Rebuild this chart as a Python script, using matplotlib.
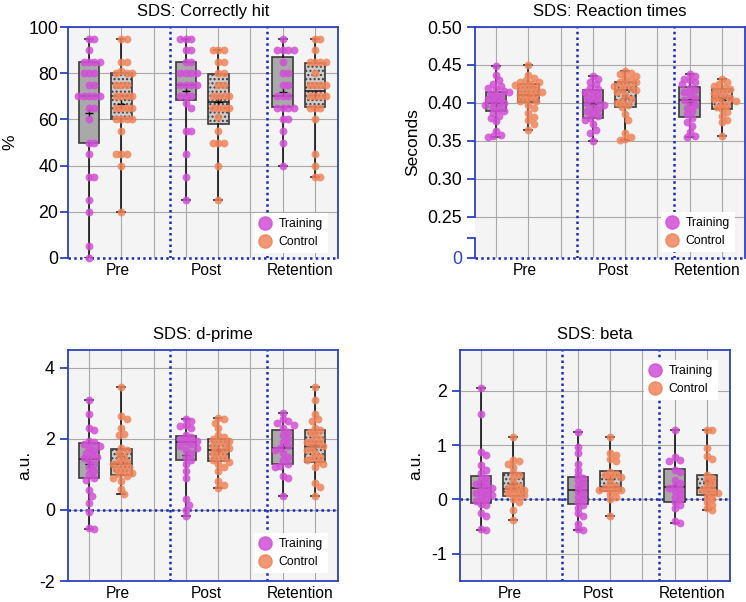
import numpy as np
import matplotlib
matplotlib.use("Agg")
import matplotlib.pyplot as plt
import matplotlib.transforms as mtransforms
from matplotlib.lines import Line2D

plt.rcParams['font.family'] = ['Liberation Sans', 'DejaVu Sans']
plt.rcParams['axes.unicode_minus'] = False
plt.rcParams['hatch.linewidth'] = 1.0

# ---------------- data ----------------
sessions = ["Pre", "Post", "Retention"]
session_x = [0.9, 3.63, 6.54]
positions = [0, 1, 3, 4, 6, 7]          # training / control per session

# SDS: correctly hit (%)
hit_pre_tr = [95, 95, 90, 85, 85, 85, 85, 80, 80, 80, 75, 75, 70, 70, 70, 70, 70,
              65, 65, 60, 50, 50, 45, 35, 35, 25, 20, 5, 0]
hit_pre_ct = [95, 95, 85, 85, 81, 80, 80, 80, 75, 75, 75, 70, 70, 70, 70, 65, 65, 65,
              65, 60, 60, 60, 60, 55, 45, 45, 45, 40, 20]
hit_post_tr = [95, 95, 95, 90, 90, 85, 85, 80, 80, 80, 80, 75, 75, 75, 75, 70, 70, 70,
               67, 65, 55, 55, 45, 35, 25]
hit_post_ct = [90, 90, 90, 85, 85, 80, 80, 75, 75, 70, 70, 70, 70, 65, 65, 65, 65, 61,
               55, 50, 50, 50, 40, 25]
hit_ret_tr = [95, 90, 90, 90, 90, 85, 80, 80, 75, 75, 70, 70, 70, 65, 65, 65, 65, 60,
              60, 55, 50, 40]
hit_ret_ct = [95, 95, 90, 85, 85, 85, 85, 80, 75, 75, 75, 75, 70, 70, 70, 70, 65, 65,
              65, 60, 45, 40, 35, 35]
hit_q1 = [50, 60, 68.5, 58, 65.5, 65.2]
hit_med = [70, 70, 75, 67.5, 70, 72.4]
hit_q3 = [85, 80, 84.7, 79.5, 87.1, 84.3]

# SDS: reaction times (s)
rt_pre_tr = [0.449, 0.437, 0.430, 0.425, 0.423, 0.420, 0.418, 0.416, 0.415, 0.412,
             0.410, 0.408, 0.405, 0.403, 0.401, 0.400, 0.398, 0.395, 0.392, 0.390,
             0.387, 0.383, 0.380, 0.376, 0.363, 0.358, 0.356, 0.355]
rt_pre_ct = [0.450, 0.437, 0.433, 0.430, 0.428, 0.427, 0.425, 0.424, 0.422, 0.420,
             0.418, 0.416, 0.415, 0.413, 0.412, 0.410, 0.408, 0.405, 0.403, 0.402,
             0.398, 0.393, 0.387, 0.382, 0.377, 0.372, 0.365]
rt_post_tr = [0.435, 0.432, 0.428, 0.425, 0.420, 0.418, 0.415, 0.413, 0.410, 0.408,
              0.405, 0.402, 0.400, 0.398, 0.395, 0.392, 0.390, 0.387, 0.383, 0.380,
              0.378, 0.372, 0.365, 0.360, 0.350]
rt_post_ct = [0.442, 0.440, 0.438, 0.435, 0.433, 0.430, 0.428, 0.427, 0.425, 0.423,
              0.420, 0.418, 0.417, 0.415, 0.410, 0.405, 0.403, 0.400, 0.397, 0.395,
              0.385, 0.378, 0.360, 0.355, 0.352, 0.351]
rt_ret_tr = [0.438, 0.435, 0.432, 0.430, 0.427, 0.425, 0.420, 0.417, 0.414, 0.410,
             0.407, 0.404, 0.400, 0.397, 0.393, 0.390, 0.385, 0.380, 0.375, 0.370,
             0.362, 0.357, 0.355]
rt_ret_ct = [0.432, 0.428, 0.425, 0.423, 0.420, 0.418, 0.416, 0.413, 0.410, 0.408,
             0.407, 0.405, 0.403, 0.400, 0.398, 0.395, 0.392, 0.388, 0.383, 0.378,
             0.375, 0.356]
rt_q1 = [0.3895, 0.4013, 0.3807, 0.3947, 0.3816, 0.3917]
rt_med = [0.400, 0.410, 0.4005, 0.417, 0.404, 0.407]
rt_q3 = [0.415, 0.4246, 0.417, 0.428, 0.4215, 0.418]

# SDS: d-prime (a.u.)
dp_pre_tr = [3.1, 2.7, 2.3, 2.25, 1.95, 1.9, 1.85, 1.8, 1.75, 1.7, 1.6, 1.55, 1.5,
             1.45, 1.4, 1.3, 1.2, 1.1, 1.0, 0.9, 0.85, 0.55, 0.4, 0.2, -0.05, -0.5, -0.55]
dp_pre_ct = [3.45, 2.65, 2.55, 2.3, 2.15, 2.1, 1.75, 1.7, 1.6, 1.5, 1.4, 1.35, 1.3,
             1.25, 1.2, 1.15, 1.1, 1.05, 1.0, 0.95, 0.9, 0.8, 0.6, 0.45]
dp_post_tr = [2.57, 2.5, 2.4, 2.35, 2.3, 2.1, 2.05, 2.0, 1.95, 1.9, 1.85, 1.8, 1.75,
              1.7, 1.6, 1.5, 1.4, 1.3, 1.1, 0.9, 0.3, 0.15, 0.0, -0.18]
dp_post_ct = [2.6, 2.55, 2.45, 2.3, 2.1, 2.05, 2.0, 1.95, 1.9, 1.85, 1.8, 1.75, 1.7,
              1.65, 1.6, 1.5, 1.45, 1.4, 1.35, 1.3, 1.2, 1.1, 0.8, 0.7, 0.62]
dp_ret_tr = [2.74, 2.55, 2.5, 2.45, 2.4, 2.3, 2.2, 2.1, 2.0, 1.9, 1.8, 1.75, 1.7,
             1.6, 1.5, 1.4, 1.3, 1.25, 1.2, 0.95, 0.9, 0.38]
dp_ret_ct = [3.45, 3.1, 2.7, 2.55, 2.5, 2.3, 2.25, 2.2, 2.1, 2.0, 1.95, 1.9, 1.85,
             1.8, 1.75, 1.7, 1.6, 1.5, 1.45, 1.4, 1.35, 1.3, 1.2, 0.75, 0.65, 0.4]
dp_q1 = [0.89, 0.98, 1.41, 1.39, 1.30, 1.34]
dp_med = [1.44, 1.30, 1.91, 1.70, 1.75, 1.77]
dp_q3 = [1.89, 1.72, 2.07, 2.00, 2.24, 2.24]

# SDS: beta (a.u.)
bt_pre_tr = [2.05, 1.57, 0.87, 0.82, 0.63, 0.55, 0.48, 0.4, 0.35, 0.3, 0.28, 0.25,
             0.22, 0.2, 0.15, 0.12, 0.1, 0.08, 0.05, 0.0, -0.03, -0.08, -0.1, -0.25,
             -0.3, -0.55, -0.56]
bt_pre_ct = [1.15, 0.72, 0.7, 0.66, 0.6, 0.5, 0.45, 0.4, 0.3, 0.25, 0.22, 0.2, 0.18,
             0.15, 0.12, 0.1, 0.08, 0.05, 0.0, -0.05, -0.2, -0.37]
bt_post_tr = [1.24, 0.97, 0.85, 0.65, 0.55, 0.45, 0.4, 0.35, 0.3, 0.25, 0.2, 0.15,
              0.1, 0.05, 0.0, -0.05, -0.1, -0.15, -0.25, -0.3, -0.45, -0.55, -0.56]
bt_post_ct = [1.15, 0.85, 0.82, 0.75, 0.7, 0.5, 0.47, 0.45, 0.42, 0.4, 0.3, 0.25,
              0.22, 0.2, 0.18, 0.17, 0.15, 0.1, 0.05, 0.0, -0.3]
bt_ret_tr = [1.28, 0.78, 0.72, 0.7, 0.55, 0.5, 0.35, 0.3, 0.25, 0.22, 0.2, 0.15, 0.1,
             0.05, 0.0, -0.05, -0.1, -0.15, -0.4, -0.43]
bt_ret_ct = [1.28, 1.27, 0.95, 0.8, 0.75, 0.45, 0.4, 0.35, 0.3, 0.25, 0.2, 0.18, 0.15,
             0.12, 0.1, 0.05, 0.0, -0.05, -0.1, -0.15, -0.2]
bt_q1 = [-0.06, 0.055, -0.09, 0.15, -0.04, 0.09]
bt_med = [0.215, 0.20, 0.18, 0.23, 0.23, 0.215]
bt_q3 = [0.44, 0.49, 0.41, 0.515, 0.56, 0.455]

# ---------------- style ----------------
BLUE = '#2c42c2'
DOTBLUE = '#1a2bb8'
TRAIN = '#d24fd6'
CTRL = '#f0845a'
BG = '#f4f4f4'
GRID = '#a9a9a9'


def swarm_x(ax, xc, vals, dmin=5.4, step=2.7):
    # spread points sideways (in pixels) so they do not sit on top of each other
    vals = np.asarray(vals, float)
    disp = ax.transData.transform(np.column_stack([np.full(len(vals), xc), vals]))
    order = np.argsort(-disp[:, 1])
    cands = [0.0]
    for k in range(1, 15):
        cands += [k * step, -k * step]
    placed = []
    offs = np.zeros(len(vals))
    for i in order:
        y = disp[i, 1]
        for c in cands:
            if all((c - px) ** 2 + (y - py) ** 2 >= dmin ** 2 for px, py in placed):
                break
        placed.append((c, y))
        offs[i] = c
    disp[:, 0] += offs
    return ax.transData.inverted().transform(disp)[:, 0]


def panel(ax, groups, q1, med, q3, ylim, yticks, yticklabels, title, ylabel,
          label_x, legend_loc, legend_anchor, zero=0.0, ypad=3.5):
    ax.set_facecolor(BG)
    ax.set_xlim(-0.65, 7.71)
    ax.set_ylim(*ylim)

    stats = []
    for g, a, m, b in zip(groups, q1, med, q3):
        stats.append(dict(q1=a, med=m, q3=b, whislo=min(g), whishi=max(g),
                          mean=np.mean(g), fliers=[]))
    bp = ax.bxp(stats, positions=positions, widths=0.64, capwidths=0.25,
                patch_artist=True, showmeans=True, showfliers=False,
                manage_ticks=False,
                boxprops=dict(edgecolor='#3a3a3a', linewidth=1.2),
                whiskerprops=dict(color='#111111', linewidth=1.2),
                capprops=dict(color='#111111', linewidth=1.2),
                medianprops=dict(color='#222222', linewidth=1.2),
                meanprops=dict(marker='+', markeredgecolor='black',
                               markersize=6, markeredgewidth=1.0))
    for k, box in enumerate(bp['boxes']):
        if k % 2 == 0:
            box.set_facecolor('#a9a9a9')
        else:
            box.set_facecolor('#cdcdcd')
            box.set_hatch('....')
        box.set_zorder(2)
    for m in bp['means']:
        m.set_zorder(2.6)

    for k, g in enumerate(groups):
        xs = swarm_x(ax, positions[k], g)
        ax.scatter(xs, g, s=32, color=TRAIN if k % 2 == 0 else CTRL,
                   alpha=0.85, linewidths=0, zorder=3, clip_on=False)

    # grid & separators
    ax.set_xticks(range(8))
    ax.set_xticklabels([])
    ax.set_xticks(label_x, minor=True)
    ax.set_xticklabels(sessions, minor=True, fontsize=11.2)
    ax.tick_params(axis='x', which='both', length=0, pad=3.5)
    ax.set_yticks(yticks)
    ax.set_yticklabels(yticklabels, fontsize=12.8)
    ax.tick_params(axis='y', which='both', direction='out', length=6,
                   width=1.3, color=BLUE, pad=ypad)
    ax.grid(True, which='major', color=GRID, linewidth=0.8, zorder=0)
    ax.set_axisbelow(True)
    for xv in (2.5, 5.5):
        ax.axvline(xv, color=DOTBLUE, linestyle=(0, (1, 1.3)), linewidth=1.8,
                   zorder=1)
    ax.axhline(zero, color=DOTBLUE, linestyle=(0, (1, 1.3)), linewidth=1.8,
               zorder=1, clip_on=False)
    for s in ax.spines.values():
        s.set_color(BLUE)
        s.set_linewidth(1.3)

    ax.set_title(title, fontsize=12, pad=8)
    ax.set_ylabel(ylabel, fontsize=12.5)

    handles = [Line2D([], [], marker='o', ls='', markersize=9.5, color=TRAIN,
                      alpha=0.85, label='Training'),
               Line2D([], [], marker='o', ls='', markersize=9.5, color=CTRL,
                      alpha=0.85, label='Control')]
    leg = ax.legend(handles=handles, loc=legend_loc, bbox_to_anchor=legend_anchor,
                    fontsize=8.8, frameon=True, framealpha=1, edgecolor='none',
                    fancybox=False, handlelength=1.0, handletextpad=0.6,
                    labelspacing=0.5, borderpad=0.4, borderaxespad=0)
    leg.set_zorder(6)
    return ax


fig = plt.figure(figsize=(7.46, 6.02), dpi=100)
W, H = 746, 602
ax1 = fig.add_axes([68 / W, 1 - 258 / H, 270 / W, 231 / H])
ax2 = fig.add_axes([475 / W, 1 - 258 / H, 270 / W, 231 / H])
ax3 = fig.add_axes([68 / W, 1 - 581 / H, 270 / W, 231 / H])
ax4 = fig.add_axes([460 / W, 1 - 581 / H, 270 / W, 231 / H])

panel(ax1, [hit_pre_tr, hit_pre_ct, hit_post_tr, hit_post_ct, hit_ret_tr, hit_ret_ct],
      hit_q1, hit_med, hit_q3, (0, 100), [0, 20, 40, 60, 80, 100],
      ['0', '20', '40', '60', '80', '100'], 'SDS: Correctly hit', '%',
      session_x, 'lower right', (0.963, 0.022), zero=0, ypad=1)
ax1.spines['bottom'].set_visible(False)

# broken axis: bottom of panel stands for 0
rt_bottom = 0.196
rt_break = 0.2224
panel(ax2, [rt_pre_tr, rt_pre_ct, rt_post_tr, rt_post_ct, rt_ret_tr, rt_ret_ct],
      rt_q1, rt_med, rt_q3, (rt_bottom, 0.50),
      [rt_bottom, 0.25, 0.30, 0.35, 0.40, 0.45, 0.50],
      ['0', '0.25', '0.30', '0.35', '0.40', '0.45', '0.50'],
      'SDS: Reaction times', 'Seconds', session_x, 'lower right', (0.963, 0.026),
      zero=rt_bottom)
ax2.set_yticks([rt_break], minor=True)
ax2.get_yticklabels()[0].set_color(BLUE)
ax2.spines['bottom'].set_visible(False)
ax2.spines['left'].set_visible(False)
tr = mtransforms.blended_transform_factory(ax2.transAxes, ax2.transData)
ax2.plot([0, 0], [0.25, 0.50], color=BLUE, lw=1.3, transform=tr, clip_on=False)
ax2.plot([0, 0], [rt_bottom, rt_break], color=BLUE, lw=1.3, transform=tr,
         clip_on=False)

panel(ax3, [dp_pre_tr, dp_pre_ct, dp_post_tr, dp_post_ct, dp_ret_tr, dp_ret_ct],
      dp_q1, dp_med, dp_q3, (-2, 4.5), [-2, 0, 2, 4], ['-2', '0', '2', '4'],
      'SDS: d-prime', 'a.u.', session_x, 'lower right', (0.963, 0.035))

panel(ax4, [bt_pre_tr, bt_pre_ct, bt_post_tr, bt_post_ct, bt_ret_tr, bt_ret_ct],
      bt_q1, bt_med, bt_q3, (-1.5, 2.75), [-1, 0, 1, 2], ['-1', '0', '1', '2'],
      'SDS: beta', 'a.u.', session_x, 'upper right', (0.955, 0.957))

# y label positions (axes coords, label centre)
for ax, xl in ((ax1, -0.215), (ax2, -0.23), (ax3, -0.16), (ax4, -0.163)):
    ax.yaxis.label.set_va('center')
    ax.yaxis.set_label_coords(xl, 0.5)

fig.savefig('out.png', dpi=100)
